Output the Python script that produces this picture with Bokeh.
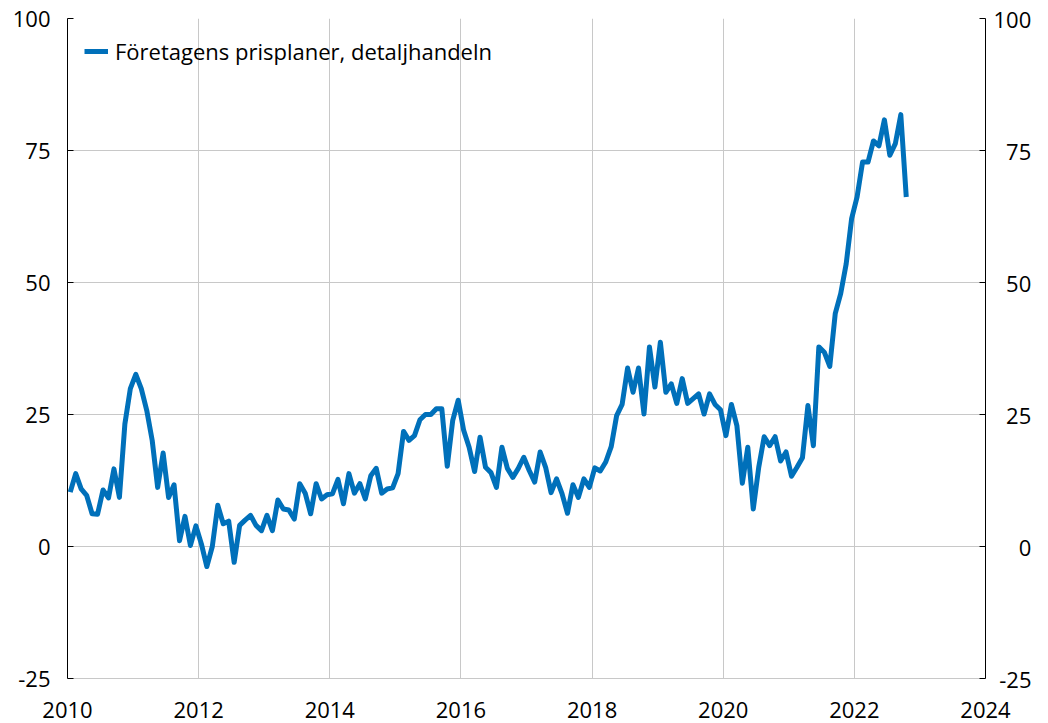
from bokeh.plotting import figure
from bokeh.models import (LinearAxis, FixedTicker, Legend, LegendItem,
                          ColumnDataSource, Range1d, BasicTickFormatter)
from bokeh.embed import file_html
from bokeh.resources import INLINE

# ---- data (monthly, Jan 2010 - Oct 2022) ----
start_year = 2010
series_name = "Företagens prisplaner, detaljhandeln"
values = [
    10.3, 13.8, 10.9, 9.7, 6.2, 6.1, 10.7, 9.2, 14.7, 9.3, 23.2, 29.9,   # 2010
    32.6, 29.9, 25.8, 20.1, 11.2, 17.7, 9.3, 11.7, 1.1, 5.7, 0.2, 3.9,    # 2011
    0.5, -3.8, 0.0, 7.8, 4.3, 4.8, -3.0, 4.0, 5.0, 5.9, 4.0, 3.0,         # 2012
    5.9, 3.0, 8.8, 7.1, 6.9, 5.2, 11.9, 10.1, 6.2, 11.9, 9.0, 9.8,        # 2013
    10.0, 12.7, 8.1, 13.8, 10.1, 11.9, 9.0, 13.4, 14.8, 10.1, 10.9, 11.1, # 2014
    13.8, 21.8, 20.1, 21.0, 24.0, 25.0, 25.0, 26.1, 26.1, 15.2, 23.9, 27.7,  # 2015
    22.0, 18.8, 14.2, 20.7, 15.0, 14.0, 11.2, 18.8, 14.8, 13.1, 14.8, 16.9,  # 2016
    14.4, 12.2, 17.9, 15.0, 10.2, 12.8, 10.0, 6.3, 11.7, 9.3, 12.8, 11.2,    # 2017
    14.9, 14.3, 16.0, 18.9, 24.8, 26.9, 33.8, 29.2, 33.8, 25.1, 37.8, 30.2,  # 2018
    38.7, 29.2, 30.8, 27.1, 31.8, 27.1, 28.0, 28.9, 25.1, 28.9, 26.9, 25.9,  # 2019
    21.0, 26.9, 22.9, 12.0, 18.8, 7.1, 15.0, 20.8, 19.1, 20.8, 16.2, 17.9,   # 2020
    13.3, 15.0, 16.8, 26.7, 19.1, 37.8, 36.8, 34.1, 44.1, 47.9, 53.5, 62.1,  # 2021
    66.2, 72.8, 72.8, 76.8, 75.9, 80.8, 74.1, 76.3, 81.8, 66.2,              # 2022
]
month_index = list(range(len(values)))
x_ticks = [2010, 2012, 2014, 2016, 2018, 2020, 2022, 2024]
y_ticks = [-25, 0, 25, 50, 75, 100]
y_labels_left = {-25: "-25", 0: "0", 25: "25", 50: "50", 75: "75", 100: "100"}
# right axis labels padded with figure spaces so they line up on the right
y_labels_right = {-25: "\u2008-25", 0: "\u2007\u20070", 25: "\u200725",
                  50: "\u200750", 75: "\u200775", 100: "100"}

x_pos = [start_year + (i + 0.5) / 12 for i in month_index]
src = ColumnDataSource(dict(x=x_pos, y=values))

FONT = "Open Sans"
FS = "22px"
GRID = "#c8c8c8"
BLUE = "#0070BA"

p = figure(width=1048, height=723,
           x_range=Range1d(x_ticks[0], x_ticks[-1]),
           y_range=Range1d(y_ticks[0], y_ticks[-1]),
           output_backend="svg", toolbar_location=None,
           min_border_left=67, min_border_right=63,
           min_border_top=18, min_border_bottom=45)
p.outline_line_color = None
p.background_fill_color = "white"
p.border_fill_color = "white"

p.xgrid.ticker = FixedTicker(ticks=x_ticks)
p.ygrid.ticker = FixedTicker(ticks=y_ticks)
p.xgrid.grid_line_color = GRID
p.ygrid.grid_line_color = GRID

xa = p.xaxis[0]
xa.ticker = FixedTicker(ticks=x_ticks)
xa.formatter = BasicTickFormatter(use_scientific=False)
xa.major_tick_in = 0
xa.major_tick_out = 0
xa.minor_tick_line_color = None
xa.axis_line_color = GRID
xa.major_label_standoff = 23
xa.major_label_text_font = FONT
xa.major_label_text_font_size = FS
xa.major_label_text_color = "black"

ya = p.yaxis[0]
ya.ticker = FixedTicker(ticks=y_ticks)
ya.major_label_overrides = y_labels_left
ya.major_tick_in = 6
ya.major_tick_out = 0
ya.minor_tick_line_color = None
ya.axis_line_color = "black"
ya.major_tick_line_color = "black"
ya.major_label_standoff = 17
ya.major_label_text_font = FONT
ya.major_label_text_font_size = FS
ya.major_label_text_color = "black"

ra = LinearAxis(ticker=FixedTicker(ticks=y_ticks))
ra.major_label_overrides = y_labels_right
ra.major_tick_in = 6
ra.major_tick_out = 0
ra.minor_tick_line_color = None
ra.axis_line_color = "black"
ra.major_tick_line_color = "black"
ra.major_label_standoff = 8
ra.major_label_text_font = FONT
ra.major_label_text_font_size = FS
ra.major_label_text_color = "black"
p.add_layout(ra, "right")

r = p.line(x="x", y="y", source=src, line_width=5, line_color=BLUE,
           line_join="round")

legend = Legend(items=[LegendItem(label=series_name, renderers=[r])],
                location="top_left", margin=17, padding=0,
                glyph_width=24, glyph_height=32, label_height=32,
                label_standoff=7, border_line_color=None,
                background_fill_alpha=0,
                label_text_font=FONT, label_text_font_size=FS,
                label_text_color="black")
p.add_layout(legend)

open("out.html", "w").write(file_html(p, INLINE))
